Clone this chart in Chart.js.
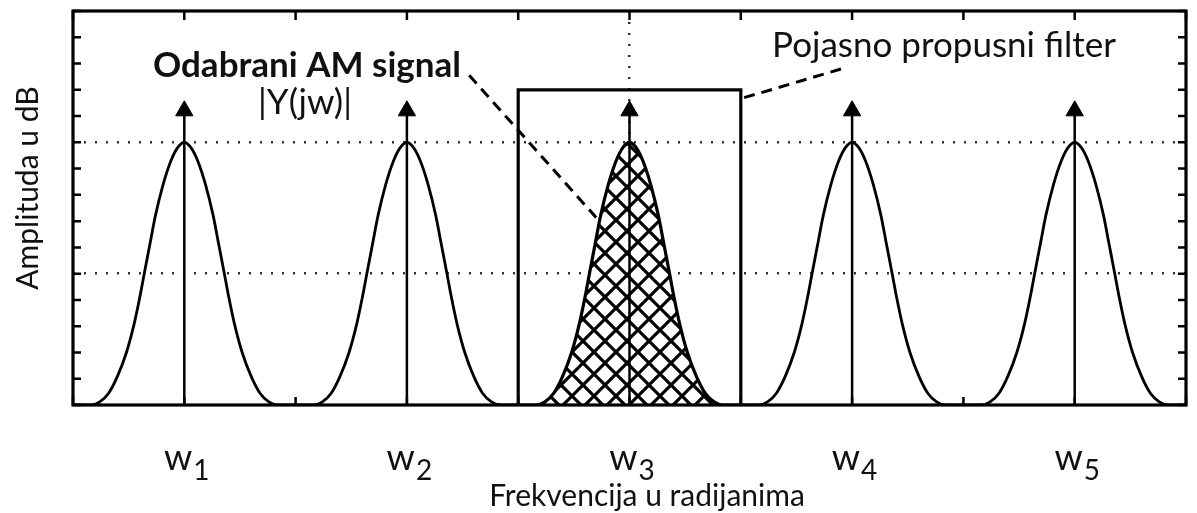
<!DOCTYPE html>
<html>
<head>
<meta charset="utf-8">
<script src="https://cdn.jsdelivr.net/npm/chart.js@4.4.1/dist/chart.umd.min.js"></script>
<style>
  html, body { margin: 0; padding: 0; background: #fff; }
  canvas { display: block; }
</style>
</head>
<body>
<canvas id="myChartAM" width="1197" height="513"></canvas>
<script>
// sredine pet AM signala (x os) i indeksi za oznake w1..w5
var centri = [1, 3, 5, 7, 9];
var indeksi = ['1', '2', '3', '4', '5'];
// jedan impuls ocitan sa slike: pomak od sredine i amplituda
var pomak = [-1.0, -0.84, -0.76, -0.68, -0.60, -0.52, -0.45, -0.40, -0.36, -0.31, -0.26, -0.19, -0.12, -0.06, 0,
             0.06, 0.12, 0.19, 0.26, 0.31, 0.36, 0.40, 0.45, 0.52, 0.60, 0.68, 0.76, 0.84, 1.0];
var amplituda = [0, 0, 0.12, 0.45, 1.1, 2.0, 3.1, 4.1, 5.0, 6.1, 7.2, 8.4, 9.3, 9.8, 10,
                 9.8, 9.3, 8.4, 7.2, 6.1, 5.0, 4.1, 3.1, 2.0, 1.1, 0.45, 0.12, 0, 0];
var odabrani = 5;          // odabrani signal (srafiran)
var vrhStrelice = 11.2;    // sredina vrha strelice
var filterX = [4, 4, 6, 6];
var filterY = [0, 12, 12, 0];
var mrezaY = [5, 10];
var mrezaX = [5];
// isprekidane linije od teksta do crteza
var linija1X = [3.56, 4.70], linija1Y = [12.55, 7.14];
var linija2X = [6.03, 6.93], linija2Y = [11.7, 12.83];

var canvas = document.getElementById('myChartAM');
var ctx = canvas.getContext('2d');

// srafura (kosa mreza)
function srafura() {
	var s = 22;
	var c = document.createElement('canvas');
	c.width = s; c.height = s;
	var g = c.getContext('2d');
	g.fillStyle = '#fff';
	g.fillRect(0, 0, s, s);
	g.strokeStyle = '#000';
	g.lineWidth = 3.2;
	g.beginPath();
	for (var k = -1; k <= 1; k++) {
		g.moveTo(k * s, 0); g.lineTo(k * s + s, s);
		g.moveTo(k * s, s); g.lineTo(k * s + s, 0);
	}
	g.stroke();
	return ctx.createPattern(c, 'repeat');
}

function tocke(xs, ys) {
	return xs.map(function (x, i) { return {x: x, y: ys[i]}; });
}

var datasets = [];

// impulsi
centri.forEach(function (c, i) {
	var jeOdabran = c === odabrani;
	datasets.push({
		label: 'w' + indeksi[i],
		data: pomak.map(function (d, j) { return {x: c + d, y: amplituda[j]}; }),
		showLine: true,
		borderColor: '#000',
		borderWidth: jeOdabran ? 3.2 : 2.8,
		pointRadius: 0,
		cubicInterpolationMode: 'monotone',
		fill: jeOdabran ? 'origin' : false,
		backgroundColor: jeOdabran ? srafura() : 'transparent',
		order: 4
	});
});

// strelice
var stabla = [];
centri.forEach(function (c) {
	stabla.push({x: c, y: 0}, {x: c, y: vrhStrelice}, {x: c, y: null});
});
datasets.push({
	label: 'strelice',
	data: stabla,
	showLine: true,
	spanGaps: false,
	borderColor: '#000',
	borderWidth: 2.5,
	pointRadius: 0,
	order: 2
});
datasets.push({
	label: 'vrhovi',
	data: centri.map(function (c) { return {x: c, y: vrhStrelice}; }),
	showLine: false,
	pointStyle: 'triangle',
	pointRadius: 10,
	backgroundColor: '#000',
	borderColor: '#000',
	borderWidth: 1,
	order: 1
});

// pojasno propusni filter
datasets.push({
	label: 'filter',
	data: tocke(filterX, filterY),
	showLine: true,
	borderColor: '#000',
	borderWidth: 3.2,
	pointRadius: 0,
	order: 3
});

// isprekidane linije
[[linija1X, linija1Y], [linija2X, linija2Y]].forEach(function (l) {
	datasets.push({
		label: 'oznaka',
		data: tocke(l[0], l[1]),
		showLine: true,
		borderColor: '#000',
		borderWidth: 3,
		borderDash: [11, 7],
		pointRadius: 0,
		order: 1
	});
});

var okvir = {
	id: 'okvir',
	afterDatasetsDraw: function (chart) {
		var c = chart.ctx, a = chart.chartArea, sx = chart.scales.x, sy = chart.scales.y;
		c.save();
		c.strokeStyle = '#000';
		c.lineWidth = 3.2;
		c.strokeRect(a.left, a.top, a.right - a.left, a.bottom - a.top);
		c.lineWidth = 2.5;
		c.beginPath();
		sy.ticks.forEach(function (t) {
			var p = sy.getPixelForValue(t.value);
			c.moveTo(a.left, p); c.lineTo(a.left + 8, p);
			c.moveTo(a.right, p); c.lineTo(a.right - 8, p);
		});
		sx.ticks.forEach(function (t) {
			var p = sx.getPixelForValue(t.value);
			c.moveTo(p, a.top); c.lineTo(p, a.top + 9);
			c.moveTo(p, a.bottom); c.lineTo(p, a.bottom - 8);
		});
		c.stroke();
		c.restore();
	},
	afterDraw: function (chart) {
		var c = chart.ctx, sx = chart.scales.x;
		c.save();
		c.fillStyle = '#111';
		c.textBaseline = 'alphabetic';

		// oznake w1..w5
		centri.forEach(function (cx, i) {
			var p = sx.getPixelForValue(cx);
			c.font = '36px Lato';
			c.textAlign = 'right';
			c.fillText('w', p + 8, 470);
			c.font = '28px Lato';
			c.textAlign = 'left';
			c.fillText(indeksi[i], p + 9, 480);
		});

		c.textAlign = 'center';
		c.font = 'bold 35px Lato';
		c.fillText('Odabrani AM signal', 307, 77);
		c.font = '35px Lato';
		c.fillText('|Y(jw)|', 305, 114);
		c.fillText('Pojasno propusni filter', 944, 57);

		c.font = '30px Lato';
		c.fillText('Frekvencija u radijanima', 647, 506);

		c.save();
		c.translate(38, 188);
		c.rotate(-Math.PI / 2);
		c.fillText('Amplituda u dB', 0, 0);
		c.restore();

		c.restore();
	}
};

var grafikon = new Chart(ctx, {
	type: 'scatter',
	data: { datasets: datasets },
	options: {
		responsive: false,
		animation: false,
		layout: { padding: { left: 73, right: 5, top: 10, bottom: 108 } },
		plugins: {
			legend: { display: false },
			tooltip: { enabled: false }
		},
		scales: {
			x: {
				type: 'linear',
				min: 0,
				max: 10,
				ticks: { display: false, stepSize: 1 },
				grid: {
					drawTicks: false,
					lineWidth: 2.5,
					color: function (k) {
						return mrezaX.indexOf(k.tick.value) >= 0 ? '#333' : 'transparent';
					}
				},
				border: { display: false, dash: [2, 9] }
			},
			y: {
				type: 'linear',
				min: 0,
				max: 15,
				ticks: { display: false, stepSize: 1 },
				grid: {
					drawTicks: false,
					lineWidth: 2.5,
					color: function (k) {
						return mrezaY.indexOf(k.tick.value) >= 0 ? '#333' : 'transparent';
					}
				},
				border: { display: false, dash: [2, 9] }
			}
		}
	},
	plugins: [okvir]
});
</script>
</body>
</html>
